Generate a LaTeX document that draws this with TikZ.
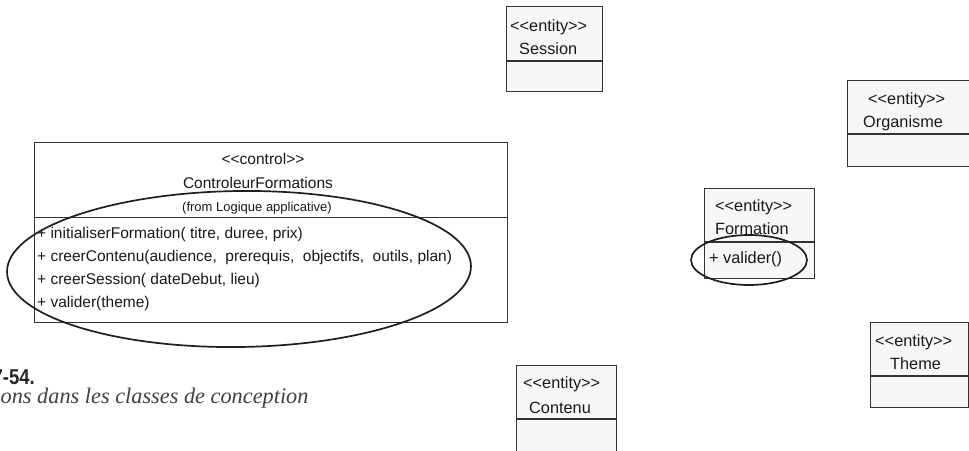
\documentclass[tikz,border=0pt]{standalone}
\usepackage{fontspec}
\setmainfont{Liberation Sans}[Ligatures=TeXOff]
\newfontfamily\capserif{Liberation Serif}
\begin{document}
\begin{tikzpicture}[x=1pt,y=-1pt,
  classbox/.style={draw=black!80, line width=1.2pt, fill=black!3, anchor=north west, inner sep=0pt},
  ctrlbox/.style={classbox, fill=white},
  divline/.style={draw=black!80, line width=1.2pt},
  lbl/.style={anchor=base west, inner sep=0pt, font=\fontsize{15.5}{18}\selectfont, text=black!90},
  clbl/.style={lbl, anchor=base},
  elbl/.style={lbl, font=\fontsize{16.3}{19}\selectfont},
  marker/.style={draw=black!88, line width=1.7pt}
]
\useasboundingbox (0,0) rectangle (969,450);

% ---- entity boxes
\node[classbox, minimum width=96.3pt, minimum height=85pt] (session) at (505.7,6) {};
\draw[divline] (session.west |- 0,61) -- (session.east |- 0,61);
\node[elbl] (sessionst) at (510,31) {<<entity>>};
\node[elbl] (sessionnm) at (519,54.5) {Session};

\node[classbox, minimum width=121.5pt, minimum height=86pt] (organisme) at (847,80) {};
\draw[divline] (organisme.west |- 0,134) -- (organisme.east |- 0,134);
\node[elbl] (organismest) at (868,104.5) {<<entity>>};
\node[elbl] (organismenm) at (863,127) {Organisme};

\node[classbox, minimum width=110pt, minimum height=90pt] (formation) at (703.7,188) {};
\draw[divline] (formation.west |- 0,242) -- (formation.east |- 0,242);
\node[elbl] (formationst) at (715,211.5) {<<entity>>};
\node[elbl] (formationnm) at (715,234.5) {Formation};
\node[elbl] (formationop) at (709,263) {+ valider()};

\node[classbox, minimum width=97.7pt, minimum height=85pt] (theme) at (870,322) {};
\draw[divline] (theme.west |- 0,376) -- (theme.east |- 0,376);
\node[elbl] (themest) at (875,346) {<<entity>>};
\node[elbl] (themenm) at (890,369.5) {Theme};

\node[classbox, minimum width=100pt, minimum height=90pt] (contenu) at (516,365) {};
\draw[divline] (contenu.west |- 0,419) -- (contenu.east |- 0,419);
\node[elbl] (contenust) at (523,388) {<<entity>>};
\node[elbl] (contenunm) at (529,413) {Contenu};

% ---- control class
\node[ctrlbox, minimum width=473.3pt, minimum height=180pt] (ctrl) at (33.7,142) {};
\draw[divline] (ctrl.west |- 0,217.7) -- (ctrl.east |- 0,217.7);
\node[clbl] (ctrlst) at (263,164.5) {<<control>>};
\node[clbl] (ctrlnm) at (258,188) {ControleurFormations};
\node[clbl, font=\fontsize{13}{15}\selectfont] (ctrlfrom) at (257,211.5) {(from Logique applicative)};
\node[lbl] (op1) at (37,238) {+ initialiserFormation( titre, duree, prix)};
\node[lbl] (op2) at (37,261) {+ creerContenu(audience,\ \ prerequis,\ \ objectifs,\ \ outils, plan)};
\node[lbl] (op3) at (37,284) {+ creerSession( dateDebut, lieu)};
\node[lbl] (op4) at (37,307) {+ valider(theme)};

% ---- hand-drawn markers
\draw[marker] (239,269) ellipse[x radius=232, y radius=78, rotate=0.74];
\draw[marker] (749,260) ellipse[x radius=58, y radius=25];

% ---- caption
\node[anchor=base east, inner sep=0pt, font=\fontsize{21.5}{24}\bfseries, text=black!85] (capnum) at (35,384) {\scalebox{0.86}[1]{7-54.}};
\node[anchor=base west, inner sep=0pt, font=\capserif\itshape\fontsize{22.3}{26}\selectfont, text=black!75] (captxt) at (0.5,403.5) {ons dans les classes de conception};
\end{tikzpicture}
\end{document}
